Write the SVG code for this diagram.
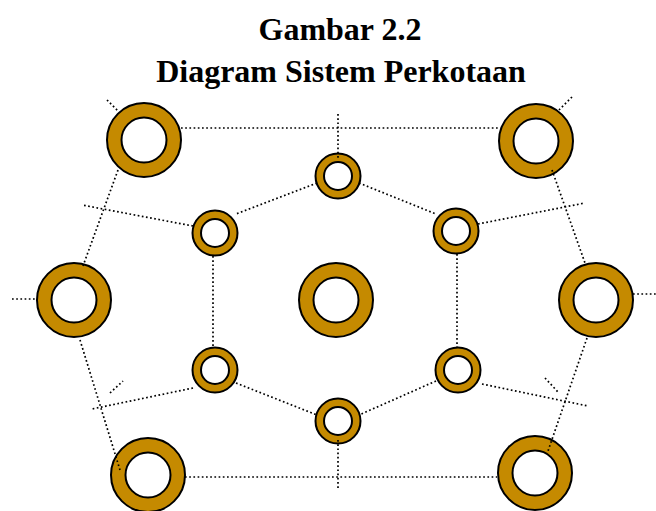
<svg xmlns="http://www.w3.org/2000/svg" width="656" height="511" viewBox="0 0 656 511">
<style>
.ring{fill:#C58A00;stroke:#000;stroke-width:2}
.hole{fill:#fff;stroke:#000;stroke-width:2}
.dot{stroke:#000;stroke-width:1.7;stroke-dasharray:1.7 2.5;fill:none}
.title{font-family:"Liberation Serif","Times New Roman",serif;font-weight:bold;font-size:32px;text-anchor:middle;fill:#000}
</style>
<rect width="656" height="511" fill="#fff"/>
<text class="title" x="340" y="40">Gambar 2.2</text>
<text class="title" x="341" y="82">Diagram Sistem Perkotaan</text>
<g id="big-tl"><circle class="ring" cx="144" cy="140" r="37"/><circle class="hole" cx="144" cy="140" r="22.5"/></g>
<g id="big-tr"><circle class="ring" cx="536" cy="141" r="37"/><circle class="hole" cx="536" cy="141" r="22.5"/></g>
<g id="big-l"><circle class="ring" cx="74" cy="300" r="37"/><circle class="hole" cx="74" cy="300" r="22.5"/></g>
<g id="big-c"><circle class="ring" cx="336" cy="300" r="37"/><circle class="hole" cx="336" cy="300" r="22.5"/></g>
<g id="big-r"><circle class="ring" cx="596" cy="300" r="37"/><circle class="hole" cx="596" cy="300" r="22.5"/></g>
<g id="big-bl"><circle class="ring" cx="148" cy="475" r="37"/><circle class="hole" cx="148" cy="475" r="22.5"/></g>
<g id="big-br"><circle class="ring" cx="535" cy="473" r="37"/><circle class="hole" cx="535" cy="473" r="22.5"/></g>
<g id="small-t"><circle class="ring" cx="338" cy="176" r="22.5"/><circle class="hole" cx="338" cy="176" r="14"/></g>
<g id="small-ul"><circle class="ring" cx="215" cy="233" r="22.5"/><circle class="hole" cx="215" cy="233" r="14"/></g>
<g id="small-ur"><circle class="ring" cx="456" cy="231" r="22.5"/><circle class="hole" cx="456" cy="231" r="14"/></g>
<g id="small-ll"><circle class="ring" cx="215" cy="370" r="22.5"/><circle class="hole" cx="215" cy="370" r="14"/></g>
<g id="small-lr"><circle class="ring" cx="458" cy="370" r="22.5"/><circle class="hole" cx="458" cy="370" r="14"/></g>
<g id="small-b"><circle class="ring" cx="338" cy="421" r="22.5"/><circle class="hole" cx="338" cy="421" r="14"/></g>
<g id="connectors" class="dot">
<line x1="181" y1="128" x2="499" y2="128"/>
<line x1="185" y1="477" x2="497" y2="477"/>
<line x1="107" y1="100" x2="119" y2="112"/>
<line x1="572" y1="97" x2="559" y2="110"/>
<line x1="12" y1="299" x2="37" y2="299"/>
<line x1="633" y1="294" x2="656" y2="294"/>
<line x1="118" y1="170" x2="83" y2="266"/>
<line x1="80" y1="340" x2="120" y2="470"/>
<line x1="552" y1="170" x2="585" y2="263"/>
<line x1="587" y1="338" x2="548" y2="451"/>
<line x1="338" y1="114" x2="338" y2="158"/>
<line x1="338" y1="440" x2="338" y2="490"/>
<line x1="317" y1="183" x2="236" y2="214"/>
<line x1="359" y1="183" x2="436" y2="214"/>
<line x1="193" y1="226" x2="82" y2="205"/>
<line x1="478" y1="224" x2="585" y2="203"/>
<line x1="213" y1="256" x2="213" y2="348"/>
<line x1="457" y1="254" x2="457" y2="348"/>
<line x1="236" y1="383" x2="317" y2="415"/>
<line x1="436" y1="381" x2="359" y2="415"/>
<line x1="193" y1="388" x2="92" y2="409"/>
<line x1="482" y1="384" x2="588" y2="406"/>
<line x1="110" y1="393" x2="123" y2="381"/>
<line x1="545" y1="378" x2="558" y2="392"/>
</g>
</svg>
